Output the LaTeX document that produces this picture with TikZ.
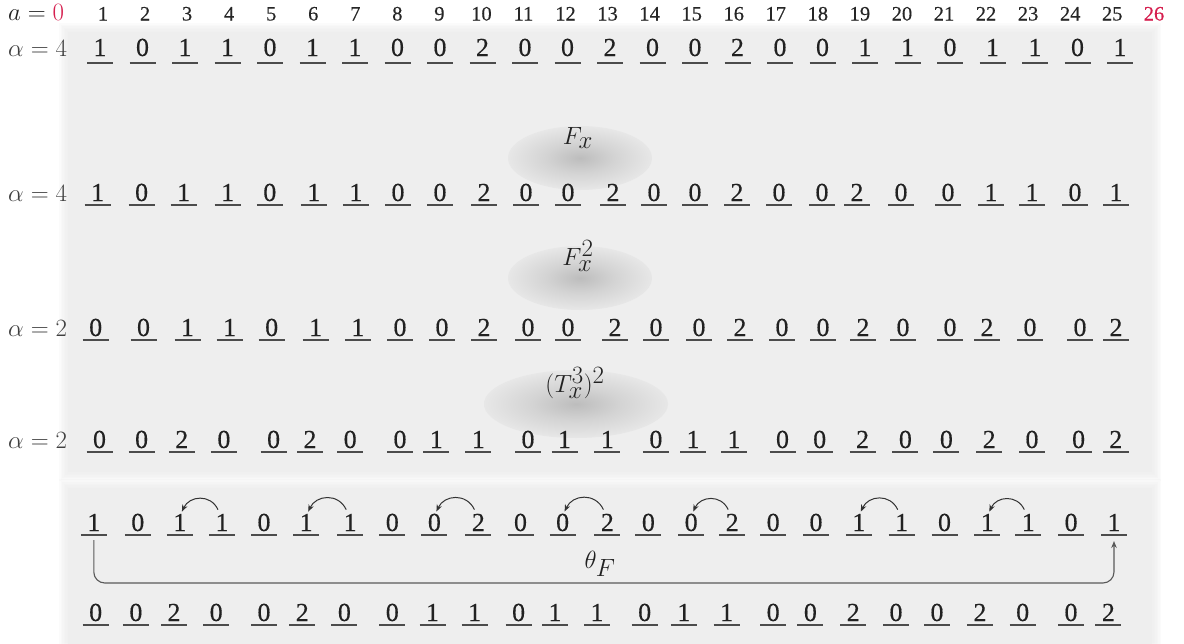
\documentclass[tikz,border=0pt]{standalone}
\usepackage{fontspec}
\newfontfamily\digitfont[FakeBold=0.35]{Liberation Serif}
\newfontfamily\headfont[FakeBold=0.2]{Liberation Serif}
\usetikzlibrary{arrows.meta}
\definecolor{panelc}{gray}{0.935}
\definecolor{hl}{RGB}{214,31,79}
\definecolor{ink}{gray}{0.13}
\pgfdeclareradialshading{blob}{\pgfpoint{0bp}{0bp}}{color(0bp)=(black!26); color(12bp)=(black!17); color(30bp)=(panelc); color(50bp)=(panelc)}
\tikzset{
  dg/.style={font=\digitfont\fontsize{26}{27}\selectfont, text=ink, inner sep=0pt, anchor=base},
  hd/.style={font=\headfont\fontsize{20.5}{21}\selectfont, text=black!85, inner sep=0pt, anchor=base},
  ul/.style={line width=1.2pt, draw=black!70},
  rowlab/.style={font=\fontsize{23}{24}\selectfont, text=black!75, inner sep=0pt, anchor=base west},
  oplab/.style={font=\fontsize{34}{35}\selectfont, text=ink, inner sep=0pt},
  hop/.style={-{Stealth[length=7pt,width=5.5pt]}, line width=1pt, draw=black!80},
  brk/.style={-{Stealth[length=7pt,width=5.5pt]}, line width=1.1pt, draw=black!65, rounded corners=11pt},
}
\newcommand\digitrow[4]{%
  \foreach \x/\d [count=\i] in {#4} {%
    \node[dg] (#1-\i) at (\x,#2) {\d};
    \draw[ul] ([xshift=-13pt,yshift=-#3pt]#1-\i.base) -- ++(26,0);
  }}
\newcommand\softpanel[4]{%
  \foreach \k in {1,...,6} {%
    \fill[panelc, opacity=0.22] ({#1-\k*1.5},{#2-\k*1.5}) rectangle ({#3+\k*1.5},{#4+\k*1.5});
  }
  \fill[panelc] (#1,#2) rectangle (#3,#4);}
\begin{document}
\begin{tikzpicture}[x=1pt,y=-1pt]
\useasboundingbox (0,0) rectangle (1184,643);
\fill[white] (0,0) rectangle (1184,643);
% panels
\softpanel{68}{32}{1152}{472}
\softpanel{68}{488}{1152}{660}
% shadows under operator labels
\shade[shading=blob] (580,158) ellipse [x radius=72, y radius=32];
\shade[shading=blob] (580,278) ellipse [x radius=72, y radius=32];
\shade[shading=blob] (576,404) ellipse [x radius=92, y radius=34];
% header
\node[font=\fontsize{24}{24}\selectfont, inner sep=0pt, anchor=base west, text=ink] (h0) at (8,20.5) {$a=\textcolor{hl}{0}$};
\foreach \i in {1,...,25} \node[hd] (h\i) at ({103+42.05*(\i-1)},20.5) {\i};
\node[hd, text=hl] (h26) at (1154,20.5) {26};
% row labels
\node[rowlab] (l1) at (8,56) {$\alpha=4$};
\node[rowlab] (l2) at (8,201) {$\alpha=4$};
\node[rowlab] (l3) at (8,336) {$\alpha=2$};
\node[rowlab] (l4) at (8,448) {$\alpha=2$};
% rows
\digitrow{r1}{56}{7}{100/1,142.5/0,185/1,227.5/1,270/0,312.5/1,355/1,397.5/0,440/0,482.5/2,525/0,567.5/0,610/2,652.5/0,695/0,737.5/2,780/0,822.5/0,865/1,907.5/1,950/0,992.5/1,1035/1,1077.5/0,1120/1}
\digitrow{r2}{201}{4}{97.6/1,141.6/0,183.7/1,227.7/1,269.8/0,313.8/1,355.9/1,398/0,440/0,484/2,526/0,568/0,613/2,654/0,695/0,737/2,779/0,822/0,857/2,901/0,948/0,991/1,1032/1,1075/0,1116/1}
\digitrow{r3}{336}{4}{95.7/0,143.5/0,187.5/1,229.6/1,271.7/0,315.7/1,357.8/1,400/0,442/0,484/2,528/0,568/0,615/2,656/0,699/0,740/2,782/0,823/0,863/2,903/0,950/0,987/2,1030/0,1080/0,1116/2}
\digitrow{r4}{448}{4}{99.5/0,141.6/0,181.8/2,223.9/0,273.6/0,310/2,350.2/0,400/0,436.3/1,478.4/1,528/0,564.5/1,607.4/1,655.9/0,693/1,734/1,782.5/0,819.7/0,862.6/2,905.4/0,946.4/0,989.2/2,1032/0,1078.6/0,1115.8/2}
\digitrow{r5}{531}{4}{93.8/1,137.8/0,179.9/1,222/1,264/0,306.2/1,350.2/1,392.3/0,434.4/0,478.4/2,520.5/0,562.6/0,607.4/2,648.4/0,691.2/0,732.2/2,773.2/0,816/0,858.8/1,901.7/1,944.5/0,987.3/1,1028.3/1,1071.1/0,1114/1}
\digitrow{r6}{621}{4}{95.7/0,135.9/0,174/2,216.2/0,264/0,302.3/2,344.4/0,392.3/0,432.5/1,474.6/1,518.6/0,555/1,597/1,644.7/0,683.8/1,726.6/1,773.2/0,810.4/0,853.3/2,896/0,937/0,980/2,1022.7/0,1071/0,1108.4/2}
% operator labels
\node[oplab] (op1) at (578,138) {$F_x$};
\node[oplab] (op2) at (578,256) {$F_x^2$};
\node[oplab] (op3) at (575,383) {$(T_x^3)^2$};
% swap arrows in row 5
\foreach \a/\b in {3/4,6/7,9/10,12/13,15/16,19/20,22/23}
  \draw[hop] ([xshift=-4pt,yshift=4pt]r5-\b.north) to[out=115,in=65,looseness=1.25] ([xshift=2pt,yshift=2pt]r5-\a.north);
% big bracket
\coordinate (lineY) at (0,583);
\draw[brk] ([yshift=-9pt]r5-1.base) -- (r5-1.base |- lineY) -- (r5-25.base |- lineY) -- ([yshift=-10pt]r5-25.base);
\node[oplab] (theta) at (600,564) {$\theta_F$};
\end{tikzpicture}
\end{document}
